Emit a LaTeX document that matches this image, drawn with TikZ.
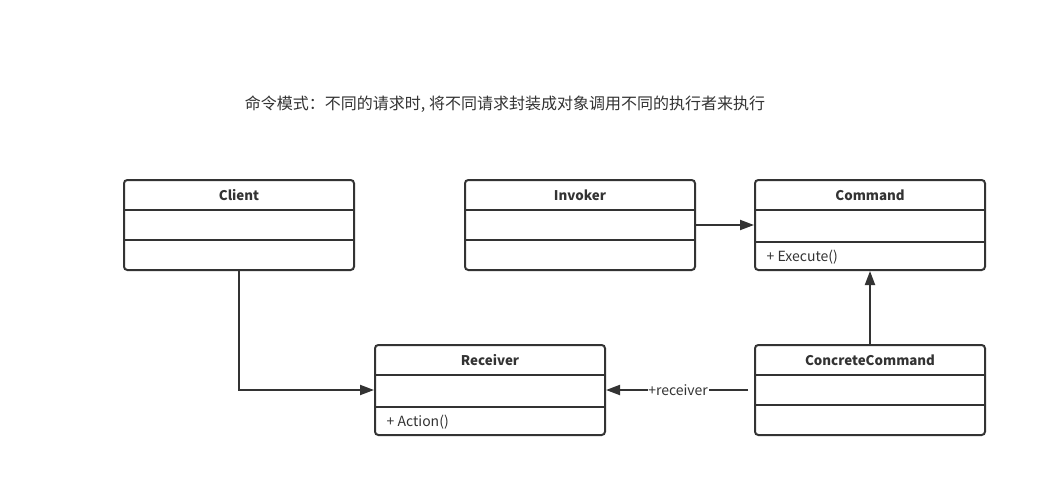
\documentclass[tikz,border=0pt]{standalone}
\usepackage{fontspec}
\setmainfont{Noto Sans CJK SC}
\usetikzlibrary{arrows.meta}
\definecolor{ink}{HTML}{333333}
\tikzset{
  cls/.style={draw=ink, line width=1.5pt, rounded corners=2.5pt, minimum width=172.5pt, minimum height=67.5pt, inner sep=0pt},
  sep/.style={draw=ink, line width=1.5pt},
  cname/.style={font=\fontsize{10}{12}\selectfont\bfseries, text=ink},
  member/.style={font=\fontsize{10.5}{12}\selectfont, text=ink, anchor=west},
  conn/.style={draw=ink, line width=1.5pt, -{Triangle[length=10.5pt,width=7.5pt]}},
}
\begin{document}
\begin{tikzpicture}[x=0.75pt,y=-0.75pt]
\useasboundingbox (0,0) rectangle (1047,497);
\fill[white] (0,0) rectangle (1047,497);

\node[font=\fontsize{12}{14}\selectfont, text=ink] (title) at (505,104) {命令模式：不同的请求时, 将不同请求封装成对象调用不同的执行者来执行};

% Client
\node[cls] (client) at (239,225) {};
\draw[sep] (124,210) -- (354,210) (124,240) -- (354,240);
\node[cname] (clientN) at (239,195) {Client};

% Invoker
\node[cls] (invoker) at (580,225) {};
\draw[sep] (465,210) -- (695,210) (465,240) -- (695,240);
\node[cname] (invokerN) at (580,195) {Invoker};

% Command
\node[cls] (command) at (870,225) {};
\draw[sep] (755,210) -- (985,210) (755,242) -- (985,242);
\node[cname] (commandN) at (870,195) {Command};
\node[member] (exec) at (762,257.5) {+ Execute()};

% Receiver
\node[cls] (receiver) at (490,390) {};
\draw[sep] (375,375) -- (605,375) (375,407) -- (605,407);
\node[cname] (receiverN) at (490,360) {Receiver};
\node[member] (action) at (382,422.5) {+ Action()};

% ConcreteCommand
\node[cls] (concrete) at (870,390) {};
\draw[sep] (755,375) -- (985,375) (755,405) -- (985,405);
\node[cname] (concreteN) at (870,360) {ConcreteCommand};

% connectors
\draw[conn] (invoker.east) -- (command.west);
\draw[conn] (concrete.north) -- (command.south);
\draw[conn] (client.south) |- (receiver.west);
\draw[conn, shorten <=4.5pt] (concrete.west) -- node[pos=0.513, fill=white, inner sep=0.5pt, font=\fontsize{10.5}{12}\selectfont, text=ink] (lbl) {+receiver} (receiver.east);
\end{tikzpicture}
\end{document}
